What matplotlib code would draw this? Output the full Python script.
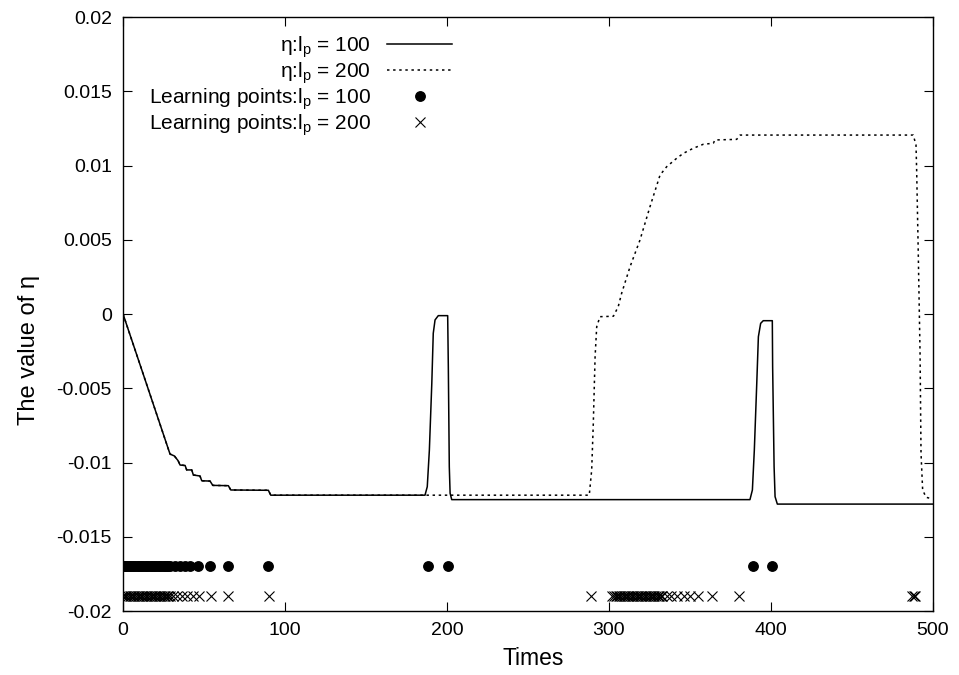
import matplotlib
matplotlib.use("Agg")
import matplotlib.pyplot as plt

plt.rcParams['font.family'] = ['Liberation Sans', 'DejaVu Sans']
plt.rcParams['mathtext.fontset'] = 'custom'
plt.rcParams['mathtext.rm'] = 'Liberation Sans'
plt.rcParams['axes.unicode_minus'] = False

# eta, l_p = 100 (solid)
t_100 = [0, 29.0, 31.7, 34.0, 35.2, 38.3, 39.3, 42.4, 43.4, 47.5, 48.6, 53.7, 55.4,
         65.0, 66.5, 89.7, 91.2,
         186.4, 187.8, 189.1, 190.6, 191.5, 192.6, 194.6, 200.4, 200.8, 201.4, 201.9, 202.9,
         387.0, 388.5, 389.7, 391.2, 392.2, 393.6, 395.2, 400.8, 401.0, 401.9, 402.5, 403.9,
         500]
eta_100 = [0, -0.00943, -0.00956, -0.00988, -0.01017, -0.0102, -0.0105, -0.0105, -0.01084,
           -0.01091, -0.01123, -0.01125, -0.01154, -0.01156, -0.01185, -0.01187, -0.0122,
           -0.0122, -0.01163, -0.00916, -0.00467, -0.0013, -0.0004, -0.00011, -0.00011,
           -0.00355, -0.01028, -0.01207, -0.0125,
           -0.0125, -0.01185, -0.00916, -0.00467, -0.00153, -0.00063, -0.00045, -0.00045,
           -0.00355, -0.01028, -0.0123, -0.0128,
           -0.0128]

# eta, l_p = 200 (dotted)
t_200 = [0, 29.0, 31.7, 34.0, 35.2, 38.3, 39.3, 42.4, 43.4, 47.5, 48.6, 53.7, 55.4,
         65.0, 66.5, 89.7, 91.2,
         287.8, 289.3, 290.3, 291.4, 292.4, 294.4, 302.7, 305.7, 307.8, 313.0, 319.1,
         325.3, 331.5, 335.6, 341.8, 345.9, 352.0, 358.2, 364.4, 365.4, 378.8, 380.9,
         487.8, 489.5, 489.9, 490.9, 492.0, 492.6, 493.6, 495.7, 498.1]
eta_200 = [0, -0.00943, -0.00956, -0.00988, -0.01017, -0.0102, -0.0105, -0.0105, -0.01084,
           -0.01091, -0.01123, -0.01125, -0.01154, -0.01156, -0.01185, -0.01187, -0.0122,
           -0.0122, -0.0105, -0.00736, -0.00288, -0.00086, -0.00018, -0.00015, 0.0005,
           0.0014, 0.00319, 0.00498, 0.00723, 0.00936, 0.00992, 0.01049, 0.01082,
           0.01116, 0.01143, 0.0115, 0.01172, 0.01176, 0.01205,
           0.01205, 0.01138, 0.0097, 0.00409, -0.00265, -0.00938, -0.01185, -0.01234,
           -0.01241]

# learning points
lp_100_t = [0, 1, 2, 3, 4, 5, 6, 7, 8, 9, 10, 11, 12, 13, 14, 15, 16, 17, 18, 19, 20,
            21, 22, 23, 24, 25, 26, 27, 28, 29, 32, 35, 38.3, 41.4, 46.5, 53.7, 65, 89.7,
            188.3, 200.6, 388.9, 400.6]
lp_100_y = -0.017
lp_200_t = [0, 1, 2, 3, 4, 5, 6, 7, 8, 9, 10, 11, 12, 13, 14, 15, 16, 17, 18, 19, 20,
            21, 22, 23, 24, 25, 26, 27, 28, 29, 31, 33.5, 36.5, 39.5, 43, 47, 54, 65, 90,
            288.7, 302, 303, 304, 305, 306, 307, 308, 309, 310, 311, 312, 313, 314, 315,
            316, 317, 318, 319, 320, 321, 322, 323, 324, 325, 326, 327, 328, 329, 330,
            331, 332, 333, 335.5, 338.5, 342, 346, 350, 355, 363.4, 380.2,
            487, 488, 489]
lp_200_y = -0.019

fig = plt.figure(figsize=(9.59, 6.75), dpi=100)
ax = fig.add_axes([0.1283, 0.0948, 0.8446, 0.88])

ax.plot(t_100, eta_100, color='black', lw=1.1, label=r'η:l$_\mathregular{p}$ = 100')
ax.plot(t_200, eta_200, color='black', lw=1.1, linestyle=(0, (1.6, 2.4)),
        label=r'η:l$_\mathregular{p}$ = 200')
ax.plot(lp_100_t, [lp_100_y] * len(lp_100_t), 'o', color='black', markersize=6.8,
        label=r'Learning points:l$_\mathregular{p}$ = 100')
ax.plot(lp_200_t, [lp_200_y] * len(lp_200_t), 'x', color='black', markersize=6.5,
        markeredgewidth=0.8, label=r'Learning points:l$_\mathregular{p}$ = 200')

ax.set_xlim(0, 500)
ax.set_ylim(-0.02, 0.02)
ax.set_xticks([0, 100, 200, 300, 400, 500])
yt = [-0.02, -0.015, -0.01, -0.005, 0, 0.005, 0.01, 0.015, 0.02]
ax.set_yticks(yt)
ax.set_yticklabels(['%g' % v for v in yt])
ax.tick_params(direction='in', length=6.5, width=0.8, top=True, right=True,
               labelsize=14, pad=8)
for s in ax.spines.values():
    s.set_linewidth(1.0)

ax.set_xlabel('Times', fontsize=16.5)
ax.xaxis.set_label_coords(0.506, -0.06)
ax.set_ylabel('The value of η', fontsize=17)
ax.yaxis.set_label_coords(-0.103, 0.44)

ax.legend(loc='upper right', bbox_to_anchor=(0.424, 0.995), frameon=False,
          markerfirst=False, fontsize=15, handlelength=3.1, handletextpad=0.8,
          labelspacing=0.0, borderaxespad=0.3)

fig.savefig('out.png', dpi=100)
